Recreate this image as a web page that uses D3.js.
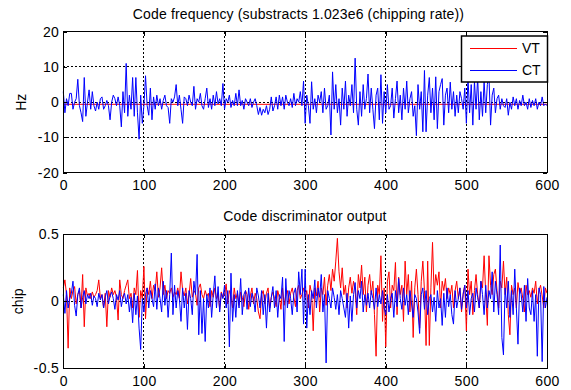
<!DOCTYPE html>
<html>
<head>
<meta charset="utf-8">
<script src="https://cdn.jsdelivr.net/npm/d3@7"></script>
<style>
  body { margin: 0; background: #fff; }
  svg text { font-family: "Liberation Sans", Arial, sans-serif; font-size: 14px; fill: #000; }
</style>
</head>
<body>
<div id="chart"></div>
<script>
const epochs = d3.range(0, 601, 2);
const xTicks = [0, 100, 200, 300, 400, 500, 600];

// top panel: code frequency minus 1.023e6 (Hz)
const vtFreqEpochs = [0, 600];
const vtFreq = [-0.6, -0.6];
const ctFreq = [
  3, -3, 1, -1, 2.5, 2.5, -2, 0, 1, 6.5,
  -1, -3, -5.5, 7, -4, 0, 3.5, -2, 3, -1,
  -2.5, 0, -2, 1, 1.5, -2, -1, 0.5, -1, -5,
  0, 2, 1, -1, 1.5, -1, -7, 3, -3, 11,
  -4, 2, -2, 7, -4, 7, -3, -10.5, 2, -6,
  -1, 7.5, -1, -3.7, 4, -5, 1.5, -2, 2, -1,
  1, -2, 0.5, 2, -1, -1.5, -6, 1, 0, 1.5,
  5, -1, 2, -2, -6, 1.5, 1, -1, 2, 0,
  -1, 4.5, -2, 1, 0, 2.5, -1, -2, 1, 4,
  -1.5, 1, -2, 2, -1, 3, -0.5, 1, -1, 5.3,
  -2, 1, 0, 2, -1.5, 0.5, -1, 2.5, -1, 3.5,
  -1, 0.5, -2, 1, 0, -1, 1, -1.5, 0, 1,
  -1, -3.5, -1.5, -3.7, -2, -3, -1, -3.5, -2, 1.5,
  -2.5, -1, 1.5, -2, 2, -1, 1.5, -2, 2, 0,
  -1, 1, -1.5, 2.5, -1, 1, 0, 3, -1, 6,
  -6, 2, -1, -6, 5.8, -2, 1, -3, 2, 0,
  3, -3, 4, -2, -1, 2, -9.3, 8.6, -2, 5,
  -3, 1, -6.5, 4, -2, 6, -4, 2, -1, 5,
  -3, 12.5, -2, -6.5, 3, -4, 5, -2, 1, 8,
  -3, 4, -2, -7.5, 2, 4, -5, 7.8, -6, 3,
  -3, 5, -2, -1, 4, -4.5, 1, 6, -3, 2,
  -5, 4, -2, 6, -3, 1, 3, -4, -1, -9.5,
  5, -2, 3, -8.4, 9, -8.4, 2, 7, -3, 4,
  -5, 7.2, -7.5, 3, 5, 6.7, -6.5, 2, 4, -3,
  5.7, -2, 3, -4, 2, -3, 3, 1, -2, 4,
  -6, 7, -3, 5, -6.5, 6, -2, 7, -5, 3,
  -4, 6, -3, 5, 7.6, -6.5, 2, 4, -3, 1,
  2, -2, 1, -1, -1.5, 1, -3.7, 0, -2, 1.5,
  -1, 1, -2, 0.5, -1, 2, -1, 0, -2, 1,
  -1.5, 0.5, -1, 1, -2, 0, -1, 1.5, -1, -0.5,
  -1
];

// bottom panel: code discriminator output (chip)
const vtDisc = [
  0.1, 0.16, 0.05, -0.35, 0.1, 0.02, 0.08, 0.11, -0.02, 0.05,
  0.08, -0.05, 0.2, -0.19, 0.1, 0.04, 0.06, 0.02, 0.07, 0.03,
  0.05, 0.08, 0.16, 0.02, 0.05, -0.05, 0.06, -0.19, 0.08, 0.03,
  0.1, 0.05, 0.08, 0.03, -0.14, 0.16, 0.05, 0.02, 0.08, 0.12,
  0.16, 0.02, 0.06, -0.05, 0.1, 0.05, 0.23, -0.12, 0.08, 0.02,
  0.26, -0.13, 0.1, 0.05, 0.15, 0.02, 0.12, 0.08, 0.22, 0.03,
  0.1, 0.25, 0.05, 0.12, 0.02, 0.08, 0.06, 0.1, 0.03, 0.07,
  0.05, 0.1, 0.02, 0.22, 0.08, 0.04, 0.1, -0.02, 0.05, 0.17,
  0.03, 0.08, 0.06, -0.03, 0.1, 0.13, 0.05, 0.02, 0.08, 0.04,
  0.06, -0.04, 0.08, 0.03, 0.1, 0.02, 0.05, -0.06, 0.07, 0.03,
  0.05, 0.13, -0.02, 0.08, 0.04, -0.05, 0.1, 0.02, 0.06, -0.03,
  0.07, 0.03, -0.04, 0.08, 0.05, -0.06, 0.04, 0.1, -0.02, 0.06,
  0.02, -0.08, -0.13, 0.05, 0.08, -0.02, 0.06, 0.1, -0.05, 0.03,
  0.07, 0.02, -0.04, 0.08, 0.03, -0.06, 0.1, -0.03, 0.05, 0.08,
  -0.02, 0.06, 0.1, 0.03, -0.04, 0.08, 0.12, 0.02, 0.05, 0.1,
  0.03, 0.08, -0.05, 0.12, 0.06, -0.22, 0.1, 0.04, 0.15, -0.08,
  0.1, 0.05, 0.18, -0.03, 0.12, 0.2, 0.08, 0.24, 0.15, 0.3,
  0.47, 0.22, 0.1, 0.25, 0.05, 0.12, -0.05, 0.1, 0.18, 0.06,
  0.15, 0.08, -0.1, 0.2, 0.1, 0.27, 0.05, 0.18, -0.08, 0.12,
  0.2, 0.05, 0.15, -0.1, -0.41, 0.12, 0.05, 0.34, -0.15, 0.1,
  -0.34, 0.15, 0.22, -0.05, 0.12, 0.08, 0.29, -0.1, 0.18, 0.05,
  0.12, -0.15, 0.3, 0.05, 0.2, -0.08, 0.15, -0.27, 0.1, 0.24,
  0.05, -0.2, 0.15, 0.3, 0.08, -0.33, 0.3, -0.33, 0.1, 0.44,
  0.05, 0.2, 0.12, 0.22, -0.05, 0.15, 0.08, 0.17, 0.02, 0.1,
  0.05, 0.12, -0.05, 0.08, 0.15, 0.02, 0.1, -0.08, 0.06, 0.12,
  -0.22, 0.24, 0.05, 0.15, -0.1, 0.08, 0.2, 0.05, -0.05, 0.15,
  0.1, 0.34, 0.05, -0.18, 0.34, 0.12, 0.05, 0.2, 0.24, 0.08,
  -0.05, 0.15, 0.1, 0.3, 0.05, 0.18, -0.1, -0.25, 0.12, 0.05,
  0.1, -0.05, 0.14, 0.06, 0.1, 0.02, -0.08, 0.12, 0.05, 0.08,
  0.03, 0.1, 0.06, 0.15, -0.02, 0.08, 0.12, 0.04, -0.05, 0.1,
  0.06
];
const ctDisc = [
  0.05, -0.09, 0.08, -0.05, 0.02, 0.06, 0.15, -0.03, -0.11, 0.05,
  0.1, -0.05, 0.03, 0.08, -0.02, 0.05, 0.02, 0.06, -0.03, 0.04,
  0.02, -0.04, 0.06, 0.01, 0.05, -0.05, 0.03, 0.08, -0.02, 0.04,
  0.07, 0.02, -0.06, 0.05, 0.01, 0.08, -0.04, 0.03, 0.06, -0.02,
  0.05, -0.08, 0.03, -0.16, 0.06, -0.1, 0.04, -0.2, -0.36, 0.02,
  -0.08, 0.05, 0.1, -0.05, 0.08, 0.02, -0.04, 0.13, -0.06, 0.1,
  0.02, -0.08, 0.15, -0.03, 0.08, -0.12, 0.05, 0.36, -0.1, 0.12,
  -0.05, 0.08, 0.02, -0.15, 0.1, -0.05, 0.06, -0.21, 0.08, 0.02,
  -0.1, 0.15, 0.05, 0.35, -0.25, 0.08, -0.24, 0.02, -0.3, 0.05,
  -0.05, 0.1, -0.12, 0.05, 0.19, -0.05, 0.11, -0.08, 0.06, 0.02,
  0.12, -0.05, 0.08, -0.34, 0.21, -0.15, 0.05, -0.12, 0.08, -0.05,
  0.17, -0.1, 0.05, 0.08, -0.06, 0.1, -0.04, 0.06, 0.02, -0.08,
  0.1, 0.04, -0.05, 0.08, -0.1, 0.05, -0.2, 0.06, -0.08, 0.03,
  0.11, -0.05, 0.08, -0.12, 0.05, 0.02, 0.18, -0.3, 0.17, -0.05,
  0.08, 0.02, -0.1, 0.06, 0.1, -0.08, 0.22, 0.05, 0.24, -0.17,
  0.24, -0.2, 0.05, -0.1, 0.08, 0.02, 0.16, -0.05, 0.1, 0.03,
  0.2, -0.08, 0.05, -0.46, 0.08, 0.02, -0.05, 0.1, 0.03, -0.06,
  0.05, -0.1, 0.08, 0.02, -0.05, -0.12, 0.06, -0.2, 0.04, -0.15,
  0.05, 0.14, -0.05, 0.08, 0.02, 0.15, -0.08, 0.05, -0.03, 0.06,
  -0.05, 0.08, 0.02, -0.06, 0.1, -0.04, 0.05, -0.02, 0.08, -0.05,
  -0.1, 0.05, -0.08, 0.02, 0.06, -0.12, 0.08, -0.04, 0.17, 0.02,
  -0.06, 0.1, -0.03, 0.05, -0.1, 0.08, -0.02, -0.12, 0.05, 0.02,
  -0.08, -0.24, 0.05, 0.1, -0.06, 0.08, -0.1, 0.02, 0.05, -0.08,
  0.03, -0.15, 0.08, -0.05, 0.02, -0.18, 0.06, -0.12, 0.1, -0.04,
  0.05, -0.1, -0.17, 0.08, -0.05, 0.02, 0.1, -0.06, 0.05, 0.12,
  -0.05, 0.08, -0.1, 0.02, 0.06, -0.08, 0.1, 0.03, -0.05, 0.15,
  0.05, -0.1, 0.12, -0.05, 0.08, 0.02, 0.22, -0.08, 0.15, 0.05,
  -0.1, 0.42, -0.27, -0.4, 0.1, -0.05, 0.15, -0.12, 0.08, -0.1,
  0.24, -0.05, -0.32, 0.1, 0.05, -0.08, 0.12, -0.15, 0.17, -0.05,
  -0.1, 0.08, -0.15, 0.05, -0.41, 0.1, 0.05, -0.45, 0.11, -0.05,
  0.03
];

const seriesNames = ["VT", "CT"];
const seriesColors = ["#ff0000", "#0000ff"];

const width = 571;
const height = 390;
const left = 63.3, right = 547;

const svg = d3
  .select("#chart")
  .append("svg")
  .attr("width", width)
  .attr("height", height);

const xScale = d3.scaleLinear().domain([0, 600]).range([left, right]);

function drawPanel(p) {
  const yScale = d3.scaleLinear().domain(p.yDomain).range([p.bottom, p.top]);
  const g = svg.append("g");
  const fmt = (d) => String(d);

  // grid (dotted, like matlab "grid on")
  const grid = g.append("g").attr("class", "grid");
  grid
    .selectAll("line.gx")
    .data(xTicks.slice(1, -1))
    .enter()
    .append("line")
    .attr("x1", (d) => xScale(d))
    .attr("x2", (d) => xScale(d))
    .attr("y1", p.top)
    .attr("y2", p.bottom);
  grid
    .selectAll("line.gy")
    .data(p.yTicks.slice(1, -1))
    .enter()
    .append("line")
    .attr("x1", left)
    .attr("x2", right)
    .attr("y1", (d) => yScale(d))
    .attr("y2", (d) => yScale(d));
  grid
    .selectAll("line")
    .attr("stroke", "#000")
    .attr("stroke-width", 1)
    .attr("stroke-dasharray", "2,2")
    .attr("shape-rendering", "crispEdges");

  // data lines
  const line = d3
    .line()
    .x((d) => xScale(d[0]))
    .y((d) => yScale(d[1]));
  p.series.forEach(function (s, i) {
    g.append("path")
      .datum(s.x.map((x, k) => [x, s.y[k]]))
      .attr("fill", "none")
      .attr("stroke", seriesColors[i])
      .attr("stroke-width", 1)
      .attr("d", line);
  });

  // axes, ticks pointing inward
  const xAxis = d3.axisBottom(xScale).tickValues(xTicks).tickFormat(fmt)
    .tickSizeInner(-4).tickSizeOuter(0).tickPadding(7.5);
  const yAxis = d3.axisLeft(yScale).tickValues(p.yTicks).tickFormat(fmt)
    .tickSizeInner(-4).tickSizeOuter(0).tickPadding(4);
  const axes = [
    g.append("g").attr("transform", `translate(0,${p.bottom})`).call(xAxis),
    g.append("g").attr("transform", `translate(${left},0)`).call(yAxis),
    g.append("g").attr("transform", `translate(0,${p.top})`)
      .call(d3.axisTop(xScale).tickValues(xTicks).tickFormat("").tickSizeInner(-4).tickSizeOuter(0)),
    g.append("g").attr("transform", `translate(${right},0)`)
      .call(d3.axisRight(yScale).tickValues(p.yTicks).tickFormat("").tickSizeInner(-4).tickSizeOuter(0)),
  ];
  axes.forEach(function (a) {
    a.select(".domain").remove();
    a.selectAll("text")
      .attr("font-size", 14)
      .attr("font-family", null)
      .attr("letter-spacing", "0.4px");
    a.selectAll("line").attr("stroke", "#000").attr("shape-rendering", "crispEdges");
  });

  // box
  g.append("rect")
    .attr("x", left)
    .attr("y", p.top)
    .attr("width", right - left)
    .attr("height", p.bottom - p.top)
    .attr("fill", "none")
    .attr("stroke", "#000")
    .attr("stroke-width", 1)
    .attr("shape-rendering", "crispEdges");

  // title + y label
  g.append("text")
    .attr("x", p.titleX)
    .attr("y", p.top - 13)
    .attr("text-anchor", "middle")
    .attr("letter-spacing", "0.15px")
    .text(p.title);
  g.append("text")
    .attr("transform", `translate(${p.labelX},${(p.top + p.bottom) / 2}) rotate(-90)`)
    .attr("text-anchor", "middle")
    .attr("dy", "0.35em")
    .text(p.ylabel);

  return yScale;
}

drawPanel({
  top: 31.7,
  bottom: 172.7,
  yDomain: [-20, 20],
  yTicks: [-20, -10, 0, 10, 20],
  title: "Code frequency (substracts 1.023e6 (chipping rate))",
  titleX: 298.5,
  ylabel: "Hz",
  labelX: 21,
  series: [
    { x: vtFreqEpochs, y: vtFreq },
    { x: epochs, y: ctFreq },
  ],
});

drawPanel({
  top: 234.3,
  bottom: 368.3,
  yDomain: [-0.5, 0.5],
  yTicks: [-0.5, 0, 0.5],
  title: "Code discriminator output",
  titleX: 305,
  ylabel: "chip",
  labelX: 18,
  series: [
    { x: epochs, y: vtDisc },
    { x: epochs, y: ctDisc },
  ],
});

// legend (top panel, north-east)
const legend = svg.append("g").attr("class", "legend");
legend
  .append("rect")
  .attr("x", 461.5)
  .attr("y", 36)
  .attr("width", 86)
  .attr("height", 46)
  .attr("fill", "#fff")
  .attr("stroke", "#000")
  .attr("stroke-width", 1.5);
const items = legend
  .selectAll("g.item")
  .data(seriesNames)
  .enter()
  .append("g")
  .attr("transform", (d, i) => `translate(0,${48.5 + i * 22})`);
items
  .append("line")
  .attr("x1", 470)
  .attr("x2", 517)
  .attr("stroke", (d, i) => seriesColors[i])
  .attr("stroke-width", 1);
items
  .append("text")
  .attr("x", 522)
  .attr("dy", "0.35em")
  .text((d) => d);
</script>
</body>
</html>
